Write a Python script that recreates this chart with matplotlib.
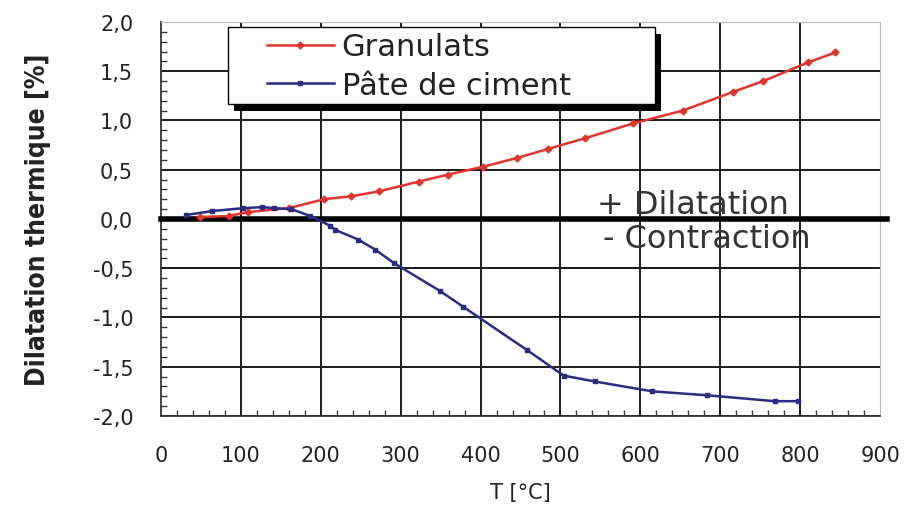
import matplotlib
matplotlib.use("Agg")
import matplotlib.pyplot as plt
from matplotlib.patches import Rectangle
from matplotlib.ticker import MultipleLocator

# Data
t_granulats = [49, 85, 109, 160, 204, 238, 273, 323, 359, 403, 446, 484,
               531, 591, 653, 716, 754, 810, 844]
d_granulats = [0.02, 0.03, 0.07, 0.11, 0.20, 0.23, 0.28, 0.38, 0.45, 0.53,
               0.62, 0.71, 0.82, 0.97, 1.10, 1.29, 1.40, 1.59, 1.69]

t_pate = [31, 64, 103, 127, 141, 163, 187, 212, 218, 247, 268, 292, 349,
          378, 458, 504, 543, 615, 684, 768, 797]
d_pate = [0.04, 0.08, 0.11, 0.12, 0.11, 0.10, 0.03, -0.07, -0.11, -0.21,
          -0.31, -0.45, -0.73, -0.89, -1.33, -1.59, -1.65, -1.75, -1.79,
          -1.85, -1.85]

x_ticks = [0, 100, 200, 300, 400, 500, 600, 700, 800, 900]
y_ticks = [-2.0, -1.5, -1.0, -0.5, 0.0, 0.5, 1.0, 1.5, 2.0]
y_tick_labels = ["-2,0", "-1,5", "-1,0", "-0,5", "0,0", "0,5", "1,0", "1,5", "2,0"]

plt.rcParams['font.family'] = ['DejaVu Sans']

fig = plt.figure(figsize=(9.12, 5.1), dpi=100)
ax = fig.add_axes([0.1765, 0.1824, 0.7885, 0.7726])

red = '#e3342c'
blue = '#2b2b85'

ax.plot(t_granulats, d_granulats, color=red, lw=1.8, marker='D', ms=3.5,
        label='Granulats', zorder=4)
ax.plot(t_pate, d_pate, color=blue, lw=1.8, marker='s', ms=3.5,
        label='Pâte de ciment', zorder=4)

# thick zero line
ax.axhline(0, xmin=0, xmax=1.01, color='k', lw=4, clip_on=False, zorder=3)

ax.set_xlim(0, 900)
ax.set_ylim(-2.0, 2.0)
ax.set_xticks(x_ticks)
ax.set_yticks(y_ticks)
ax.set_yticklabels(y_tick_labels)
ax.xaxis.set_minor_locator(MultipleLocator(20))
ax.yaxis.set_minor_locator(MultipleLocator(0.1))
ax.tick_params(which='major', length=0, labelsize=15, colors='#222222')
ax.tick_params(axis='y', which='major', pad=20)
ax.tick_params(axis='x', which='major', pad=21)
ax.tick_params(which='minor', direction='in', length=4, width=1, color='#333333')

ax.grid(True, which='major', color='#1a1a1a', lw=1.4)
ax.get_xgridlines()[-1].set_visible(False)
ax.get_xgridlines()[0].set_visible(False)
ax.get_ygridlines()[-1].set_visible(False)
ax.set_axisbelow(True)

for side in ['top', 'right']:
    ax.spines[side].set_color('#bbbbbb')
for side in ['left', 'bottom']:
    ax.spines[side].set_color('#333333')
    ax.spines[side].set_linewidth(1.3)

ax.set_xlabel('T [°C]', fontsize=15, color='#222222', labelpad=12)
ax.set_ylabel('Dilatation thermique [%]', fontsize=19, fontweight='bold',
              fontstretch='condensed', color='#222222', labelpad=30)

ax.text(546, 0.15, '+ Dilatation', fontsize=23, color='#333333', va='center')
ax.text(553, -0.20, '- Contraction', fontsize=23, color='#333333', va='center')

# legend box with a solid black drop shadow
ax.add_patch(Rectangle((0.101, 0.774), 0.594, 0.195, transform=ax.transAxes,
                       facecolor='k', edgecolor='none', zorder=5, clip_on=False))
ax.add_patch(Rectangle((0.093, 0.792), 0.594, 0.195, transform=ax.transAxes,
                       facecolor='white', edgecolor='k', lw=1.0, zorder=5.5,
                       clip_on=False))
leg = ax.legend(loc='center left', bbox_to_anchor=(0.147, 0.888),
                borderaxespad=0, borderpad=0, frameon=False, fontsize=22,
                handlelength=2.2, handletextpad=0.25, labelspacing=0.3)
leg.set_zorder(6)
for txt in leg.get_texts():
    txt.set_color('#222222')

fig.savefig('out.png', dpi=100, facecolor='white')
